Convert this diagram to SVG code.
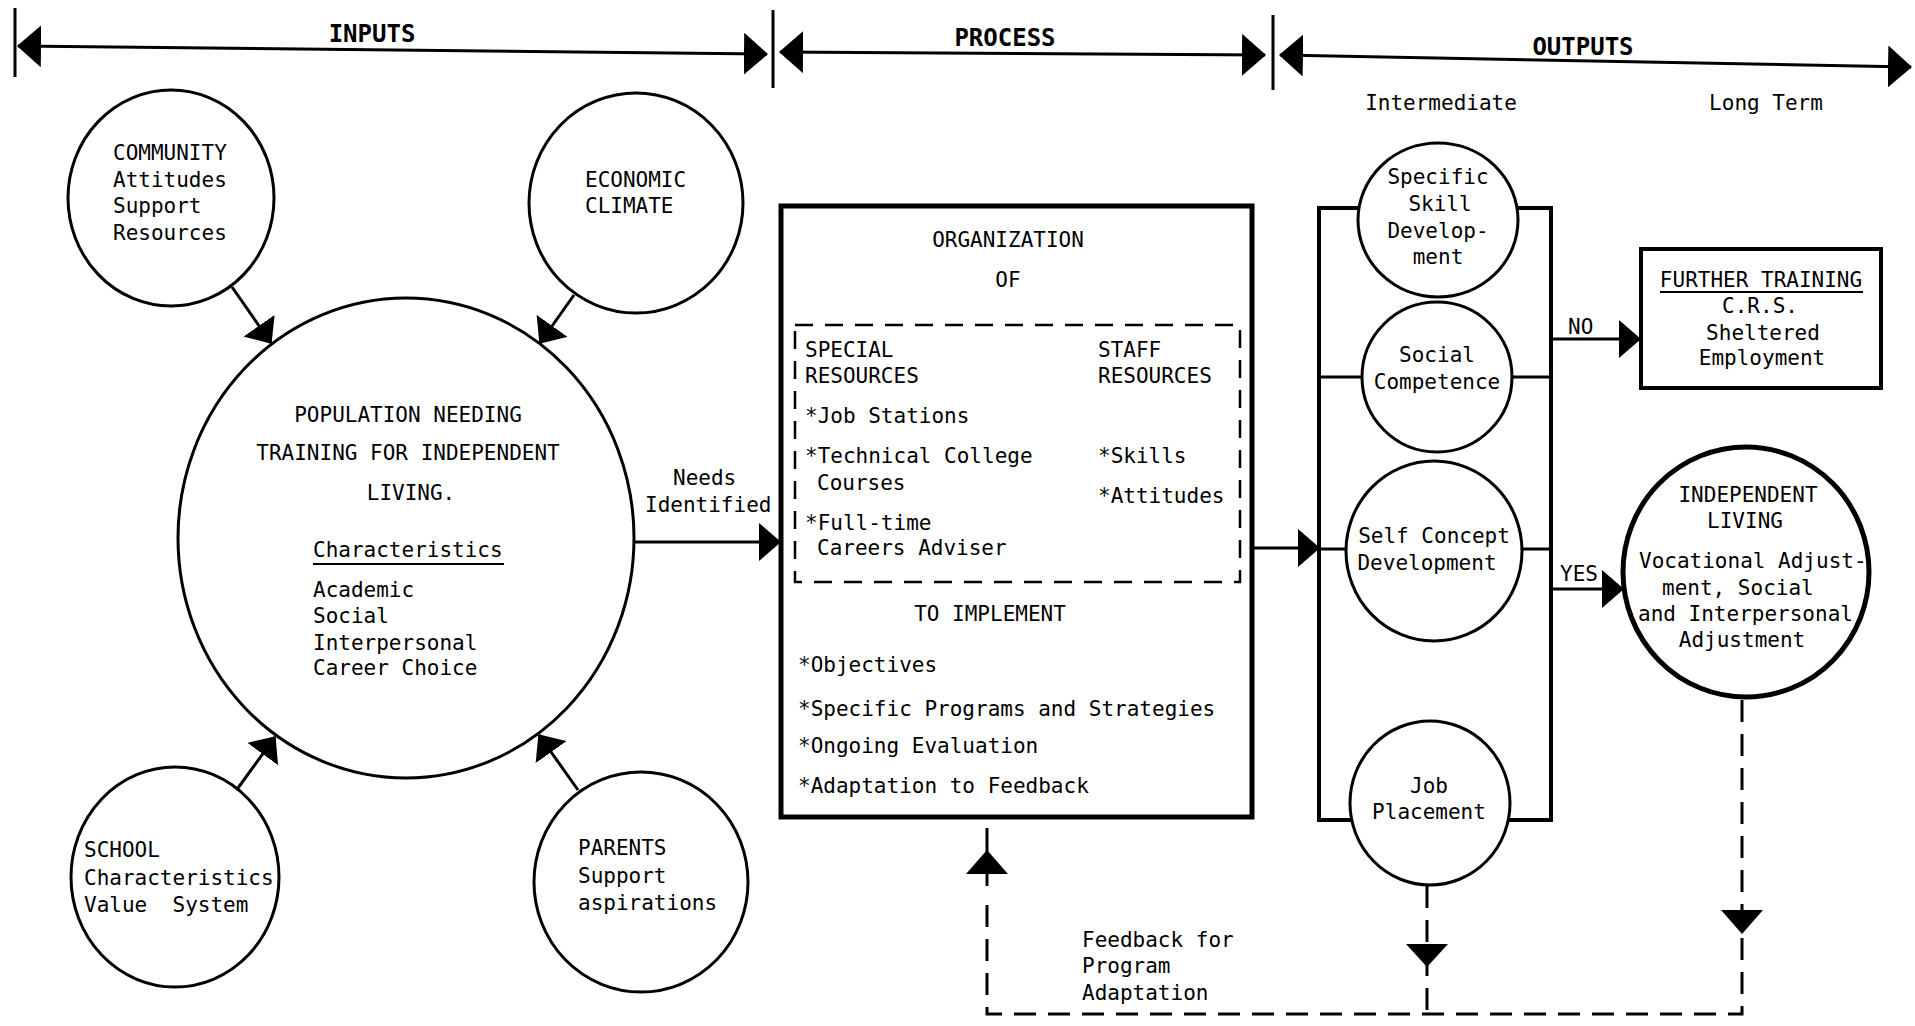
<svg xmlns="http://www.w3.org/2000/svg" width="1915" height="1026" viewBox="0 0 1915 1026">
<style>
.t{font-family:"DejaVu Sans Mono","Liberation Mono",monospace;font-size:21px;fill:#000}
.h{font-family:"DejaVu Sans Mono","Liberation Mono",monospace;font-size:24px;font-weight:bold;fill:#000;text-anchor:middle}
.c{text-anchor:middle}
.node{fill:#fff;stroke:#000;stroke-width:3}
.thick{stroke-width:5}
.ln{stroke:#000;stroke-width:3;fill:none}
.dash{stroke-dasharray:22 12}
.ul{stroke:#000;stroke-width:2}
</style>
<defs>
<marker id="ah" viewBox="0 0 22 38" refX="21" refY="19" markerWidth="22" markerHeight="38" markerUnits="userSpaceOnUse" orient="auto-start-reverse">
<path d="M0,0 L22,19 L0,38 z" fill="#000"/>
</marker>
<marker id="hh" viewBox="0 0 24 42" refX="23" refY="21" markerWidth="24" markerHeight="42" markerUnits="userSpaceOnUse" orient="auto-start-reverse">
<path d="M0,0 L24,21 L0,42 z" fill="#000"/>
</marker>
</defs>
<rect width="1915" height="1026" fill="#fff"/>

<g id="headers">
<line class="ln" x1="15" y1="8" x2="15" y2="77"/>
<line class="ln" x1="773" y1="10" x2="773" y2="88"/>
<line class="ln" x1="1273" y1="15" x2="1273" y2="90"/>
<path class="ln" d="M18,46 L767,54" marker-start="url(#hh)" marker-end="url(#hh)"/>
<path class="ln" d="M780,52 L1265,55" marker-start="url(#hh)" marker-end="url(#hh)"/>
<path class="ln" d="M1280,55 L1911,67" marker-start="url(#hh)" marker-end="url(#hh)"/>
<text class="h" x="372" y="42">INPUTS</text>
<text class="h" x="1005" y="46">PROCESS</text>
<text class="h" x="1583" y="55">OUTPUTS</text>
<text class="t c" x="1441" y="110">Intermediate</text>
<text class="t c" x="1766" y="110">Long Term</text>
</g>

<g id="connectors">
<path class="ln" d="M232,287 L271,343" marker-end="url(#ah)"/>
<path class="ln" d="M574,295 L540,343" marker-end="url(#ah)"/>
<path class="ln" d="M238,788 L275,737" marker-end="url(#ah)"/>
<path class="ln" d="M578,790 L539,735" marker-end="url(#ah)"/>
<path class="ln" d="M634,542 L780,542" marker-end="url(#ah)"/>
<text class="t" x="673" y="485">Needs</text>
<text class="t" x="645" y="512">Identified</text>
<path class="ln" d="M1252,548 L1319,548" marker-end="url(#ah)"/>
<rect x="1319" y="208" width="232" height="612" fill="none" stroke="#000" stroke-width="4"/>
<line class="ln" x1="1319" y1="377" x2="1551" y2="377"/>
<line class="ln" x1="1319" y1="549" x2="1551" y2="549"/>
<path class="ln" d="M1551,339 L1640,339" marker-end="url(#ah)"/>
<text class="t" x="1568" y="334">NO</text>
<path class="ln" d="M1551,589 L1623,589" marker-end="url(#ah)"/>
<text class="t" x="1560" y="581">YES</text>
<line class="ln" x1="987" y1="828" x2="987" y2="886"/>
<polygon points="987,850 1008,874 966,874" fill="#000"/>
<path class="ln dash" d="M1742,700 V1014 H987 V896"/>
<path class="ln dash" d="M1427,886 V1014"/>
<polygon points="1427,967 1406,944 1448,944" fill="#000"/>
<polygon points="1742,934 1721,910 1763,910" fill="#000"/>
<text class="t" x="1082" y="947">Feedback for</text>
<text class="t" x="1082" y="973">Program</text>
<text class="t" x="1082" y="1000">Adaptation</text>
</g>

<g id="community">
<ellipse class="node" cx="171" cy="198" rx="103" ry="108"/>
<text class="t" x="113" y="160">COMMUNITY</text>
<text class="t" x="113" y="187">Attitudes</text>
<text class="t" x="113" y="213">Support</text>
<text class="t" x="113" y="240">Resources</text>
</g>

<g id="economic">
<ellipse class="node" cx="636" cy="203" rx="107" ry="110"/>
<text class="t" x="585" y="187">ECONOMIC</text>
<text class="t" x="585" y="213">CLIMATE</text>
</g>

<g id="population">
<ellipse class="node" cx="406" cy="538" rx="228" ry="240" stroke-width="6"/>
<text class="t c" x="408" y="422">POPULATION NEEDING</text>
<text class="t c" x="408" y="460">TRAINING FOR INDEPENDENT</text>
<text class="t c" x="411" y="500">LIVING.</text>
<text class="t" x="313" y="557">Characteristics</text>
<line class="ul" x1="313" y1="564" x2="504" y2="564"/>
<text class="t" x="313" y="597">Academic</text>
<text class="t" x="313" y="623">Social</text>
<text class="t" x="313" y="650">Interpersonal</text>
<text class="t" x="313" y="675">Career Choice</text>
</g>

<g id="school">
<ellipse class="node" cx="175" cy="877" rx="104" ry="110"/>
<text class="t" x="84" y="857">SCHOOL</text>
<text class="t" x="84" y="885">Characteristics</text>
<text class="t" x="84" y="912" style="white-space:pre">Value  System</text>
</g>

<g id="parents">
<ellipse class="node" cx="641" cy="882" rx="107" ry="110"/>
<text class="t" x="578" y="855">PARENTS</text>
<text class="t" x="578" y="883">Support</text>
<text class="t" x="578" y="910">aspirations</text>
</g>

<g id="process">
<rect x="781" y="206" width="471" height="611" fill="#fff" stroke="#000" stroke-width="5"/>
<text class="t c" x="1008" y="247">ORGANIZATION</text>
<text class="t c" x="1008" y="287">OF</text>
<rect x="795" y="325" width="445" height="257" fill="none" stroke="#000" stroke-width="2.5" stroke-dasharray="18 12"/>
<text class="t" x="805" y="357">SPECIAL</text>
<text class="t" x="805" y="383">RESOURCES</text>
<text class="t" x="1098" y="357">STAFF</text>
<text class="t" x="1098" y="383">RESOURCES</text>
<text class="t" x="805" y="423">*Job Stations</text>
<text class="t" x="805" y="463">*Technical College</text>
<text class="t" x="817" y="490">Courses</text>
<text class="t" x="805" y="530">*Full-time</text>
<text class="t" x="817" y="555">Careers Adviser</text>
<text class="t" x="1098" y="463">*Skills</text>
<text class="t" x="1098" y="503">*Attitudes</text>
<text class="t c" x="990" y="621">TO IMPLEMENT</text>
<text class="t" x="798" y="672">*Objectives</text>
<text class="t" x="798" y="716">*Specific Programs and Strategies</text>
<text class="t" x="798" y="753">*Ongoing Evaluation</text>
<text class="t" x="798" y="793">*Adaptation to Feedback</text>
</g>

<g id="skill">
<ellipse class="node" cx="1438" cy="220" rx="80" ry="77"/>
<text class="t c" x="1438" y="184">Specific</text>
<text class="t c" x="1440" y="211">Skill</text>
<text class="t c" x="1438" y="238">Develop-</text>
<text class="t c" x="1438" y="264">ment</text>
</g>

<g id="social">
<ellipse class="node" cx="1437" cy="377" rx="75" ry="75"/>
<text class="t c" x="1437" y="362">Social</text>
<text class="t c" x="1437" y="389">Competence</text>
</g>

<g id="selfconcept">
<ellipse class="node" cx="1434" cy="551" rx="88" ry="90"/>
<text class="t c" x="1434" y="543">Self Concept</text>
<text class="t c" x="1427" y="570">Development</text>
</g>

<g id="job">
<ellipse class="node" cx="1430" cy="803" rx="80" ry="82"/>
<text class="t c" x="1429" y="793">Job</text>
<text class="t c" x="1429" y="819">Placement</text>
</g>

<g id="further">
<rect x="1641" y="249" width="240" height="139" fill="#fff" stroke="#000" stroke-width="4"/>
<text class="t c" x="1761" y="287">FURTHER TRAINING</text>
<line class="ul" x1="1660" y1="292" x2="1863" y2="292"/>
<text class="t c" x="1760" y="313">C.R.S.</text>
<text class="t c" x="1763" y="340">Sheltered</text>
<text class="t c" x="1762" y="365">Employment</text>
</g>

<g id="independent">
<ellipse class="node thick" cx="1746" cy="572" rx="123" ry="125"/>
<text class="t c" x="1748" y="502">INDEPENDENT</text>
<text class="t c" x="1745" y="528">LIVING</text>
<text class="t" x="1639" y="568">Vocational Adjust-</text>
<text class="t" x="1662" y="595">ment, Social</text>
<text class="t" x="1638" y="621">and Interpersonal</text>
<text class="t c" x="1742" y="647">Adjustment</text>
</g>
</svg>
